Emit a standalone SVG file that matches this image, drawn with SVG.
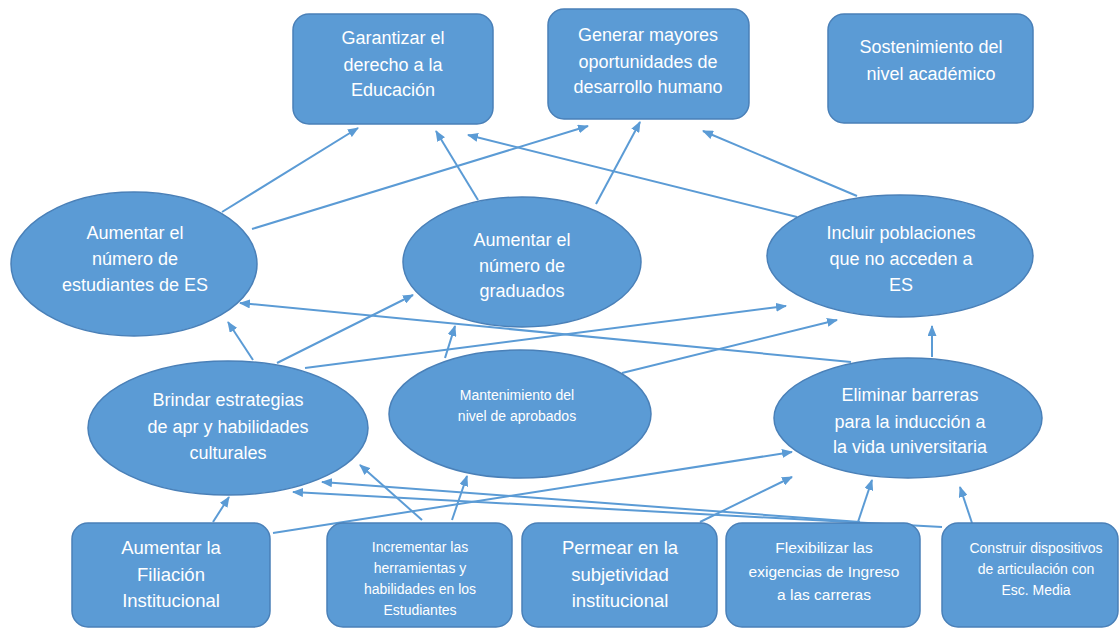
<svg xmlns="http://www.w3.org/2000/svg" width="1120" height="629" viewBox="0 0 1120 629">
<defs>
<marker id="ah" markerUnits="userSpaceOnUse" markerWidth="11" markerHeight="9" refX="10" refY="4.5" orient="auto">
<path d="M0,0 L11,4.5 L0,9 z" fill="#5b9bd5"/>
</marker>
<style>
.n{fill:#5b9bd5;stroke:#4a80b8;stroke-width:1.5}
.t{fill:#ffffff;font-family:"Liberation Sans",Arial,sans-serif;text-anchor:middle}
.f18{font-size:18px}
.f17{font-size:17px}
.f14{font-size:14px}
.f15{font-size:15.5px}
.c line{stroke:#5b9bd5;stroke-width:2;marker-end:url(#ah)}
</style>
</defs>
<rect width="1120" height="629" fill="#ffffff"/>
<g class="c" id="connectors">
<line x1="222" y1="212" x2="358" y2="128"/>
<line x1="252" y1="229" x2="588" y2="126"/>
<line x1="478" y1="200" x2="436" y2="131"/>
<line x1="596" y1="204" x2="640" y2="122"/>
<line x1="797" y1="217" x2="468" y2="135"/>
<line x1="857" y1="196" x2="703" y2="131"/>
<line x1="253" y1="360" x2="228" y2="322"/>
<line x1="277" y1="363" x2="413" y2="295"/>
<line x1="851" y1="362" x2="240" y2="303"/>
<line x1="305" y1="368" x2="786" y2="306"/>
<line x1="622" y1="373" x2="837" y2="320"/>
<line x1="445" y1="358" x2="455" y2="326"/>
<line x1="932" y1="357" x2="932" y2="326"/>
<line x1="213" y1="522" x2="229" y2="497"/>
<line x1="273" y1="533" x2="792" y2="452"/>
<line x1="422" y1="520" x2="360" y2="465"/>
<line x1="452" y1="520" x2="467" y2="476"/>
<line x1="860" y1="522" x2="322" y2="482"/>
<line x1="700" y1="522" x2="792" y2="477"/>
<line x1="942" y1="527" x2="293" y2="492"/>
<line x1="858" y1="522" x2="872" y2="480"/>
<line x1="972" y1="523" x2="960" y2="487"/>
</g>
<g id="box-garantizar">
<rect class="n" x="293" y="14" width="200" height="110" rx="16"/>
<text class="t f18" x="393" y="44">Garantizar el</text>
<text class="t f18" x="393" y="71">derecho a la</text>
<text class="t f18" x="393" y="96">Educación</text>
</g>
<g id="box-generar">
<rect class="n" x="548" y="9" width="201" height="110" rx="16"/>
<text class="t f18" x="648" y="41">Generar mayores</text>
<text class="t f18" x="648" y="68">oportunidades de</text>
<text class="t f18" x="648" y="93">desarrollo humano</text>
</g>
<g id="box-sostenimiento">
<rect class="n" x="828" y="14" width="205" height="109" rx="16"/>
<text class="t f18" x="931" y="53">Sostenimiento del</text>
<text class="t f18" x="931" y="80">nivel académico</text>
</g>
<g id="ell-estudiantes">
<ellipse class="n" cx="134" cy="264" rx="123" ry="72"/>
<text class="t f18" x="135" y="239">Aumentar el</text>
<text class="t f18" x="135" y="265">número de</text>
<text class="t f18" x="135" y="291">estudiantes de ES</text>
</g>
<g id="ell-graduados">
<ellipse class="n" cx="522" cy="262" rx="119" ry="65"/>
<text class="t f18" x="522" y="246">Aumentar el</text>
<text class="t f18" x="522" y="272">número de</text>
<text class="t f18" x="522" y="297">graduados</text>
</g>
<g id="ell-incluir">
<ellipse class="n" cx="900" cy="256" rx="133" ry="61"/>
<text class="t f18" x="901" y="239">Incluir poblaciones</text>
<text class="t f18" x="901" y="265">que no acceden a</text>
<text class="t f18" x="901" y="291">ES</text>
</g>
<g id="ell-brindar">
<ellipse class="n" cx="228" cy="428" rx="140" ry="67"/>
<text class="t f18" x="228" y="406">Brindar estrategias</text>
<text class="t f18" x="228" y="433">de apr y habilidades</text>
<text class="t f18" x="228" y="459">culturales</text>
</g>
<g id="ell-mantenimiento">
<ellipse class="n" cx="520" cy="414" rx="131" ry="64"/>
<text class="t f14" x="517" y="400">Mantenimiento del</text>
<text class="t f14" x="517" y="421">nivel de aprobados</text>
</g>
<g id="ell-eliminar">
<ellipse class="n" cx="908" cy="418" rx="134" ry="60"/>
<text class="t f18" x="910" y="401">Eliminar barreras</text>
<text class="t f18" x="910" y="428">para la inducción a</text>
<text class="t f18" x="910" y="453">la vida universitaria</text>
</g>
<g id="box-filiacion">
<rect class="n" x="72" y="523" width="198" height="104" rx="16"/>
<text class="t" font-size="18.5" x="171" y="554">Aumentar la</text>
<text class="t" font-size="18.5" x="171" y="581">Filiación</text>
<text class="t" font-size="18.5" x="171" y="607">Institucional</text>
</g>
<g id="box-incrementar">
<rect class="n" x="327" y="523" width="185" height="104" rx="16"/>
<text class="t f14" x="420" y="552">Incrementar las</text>
<text class="t f14" x="420" y="573">herramientas y</text>
<text class="t f14" x="420" y="594">habilidades en los</text>
<text class="t f14" x="420" y="615">Estudiantes</text>
</g>
<g id="box-permear">
<rect class="n" x="522" y="523" width="195" height="104" rx="16"/>
<text class="t" font-size="18.5" x="620" y="554">Permear en la</text>
<text class="t" font-size="18.5" x="620" y="581">subjetividad</text>
<text class="t" font-size="18.5" x="620" y="607">institucional</text>
</g>
<g id="box-flexibilizar">
<rect class="n" x="726" y="523" width="194" height="104" rx="16"/>
<text class="t f15" x="824" y="553">Flexibilizar las</text>
<text class="t f15" x="824" y="577">exigencias de Ingreso</text>
<text class="t f15" x="824" y="600">a las carreras</text>
</g>
<g id="box-construir">
<rect class="n" x="942" y="523" width="176" height="104" rx="16"/>
<text class="t f14" x="1036" y="553">Construir dispositivos</text>
<text class="t f14" x="1036" y="574">de articulación con</text>
<text class="t f14" x="1036" y="595">Esc. Media</text>
</g>
</svg>
